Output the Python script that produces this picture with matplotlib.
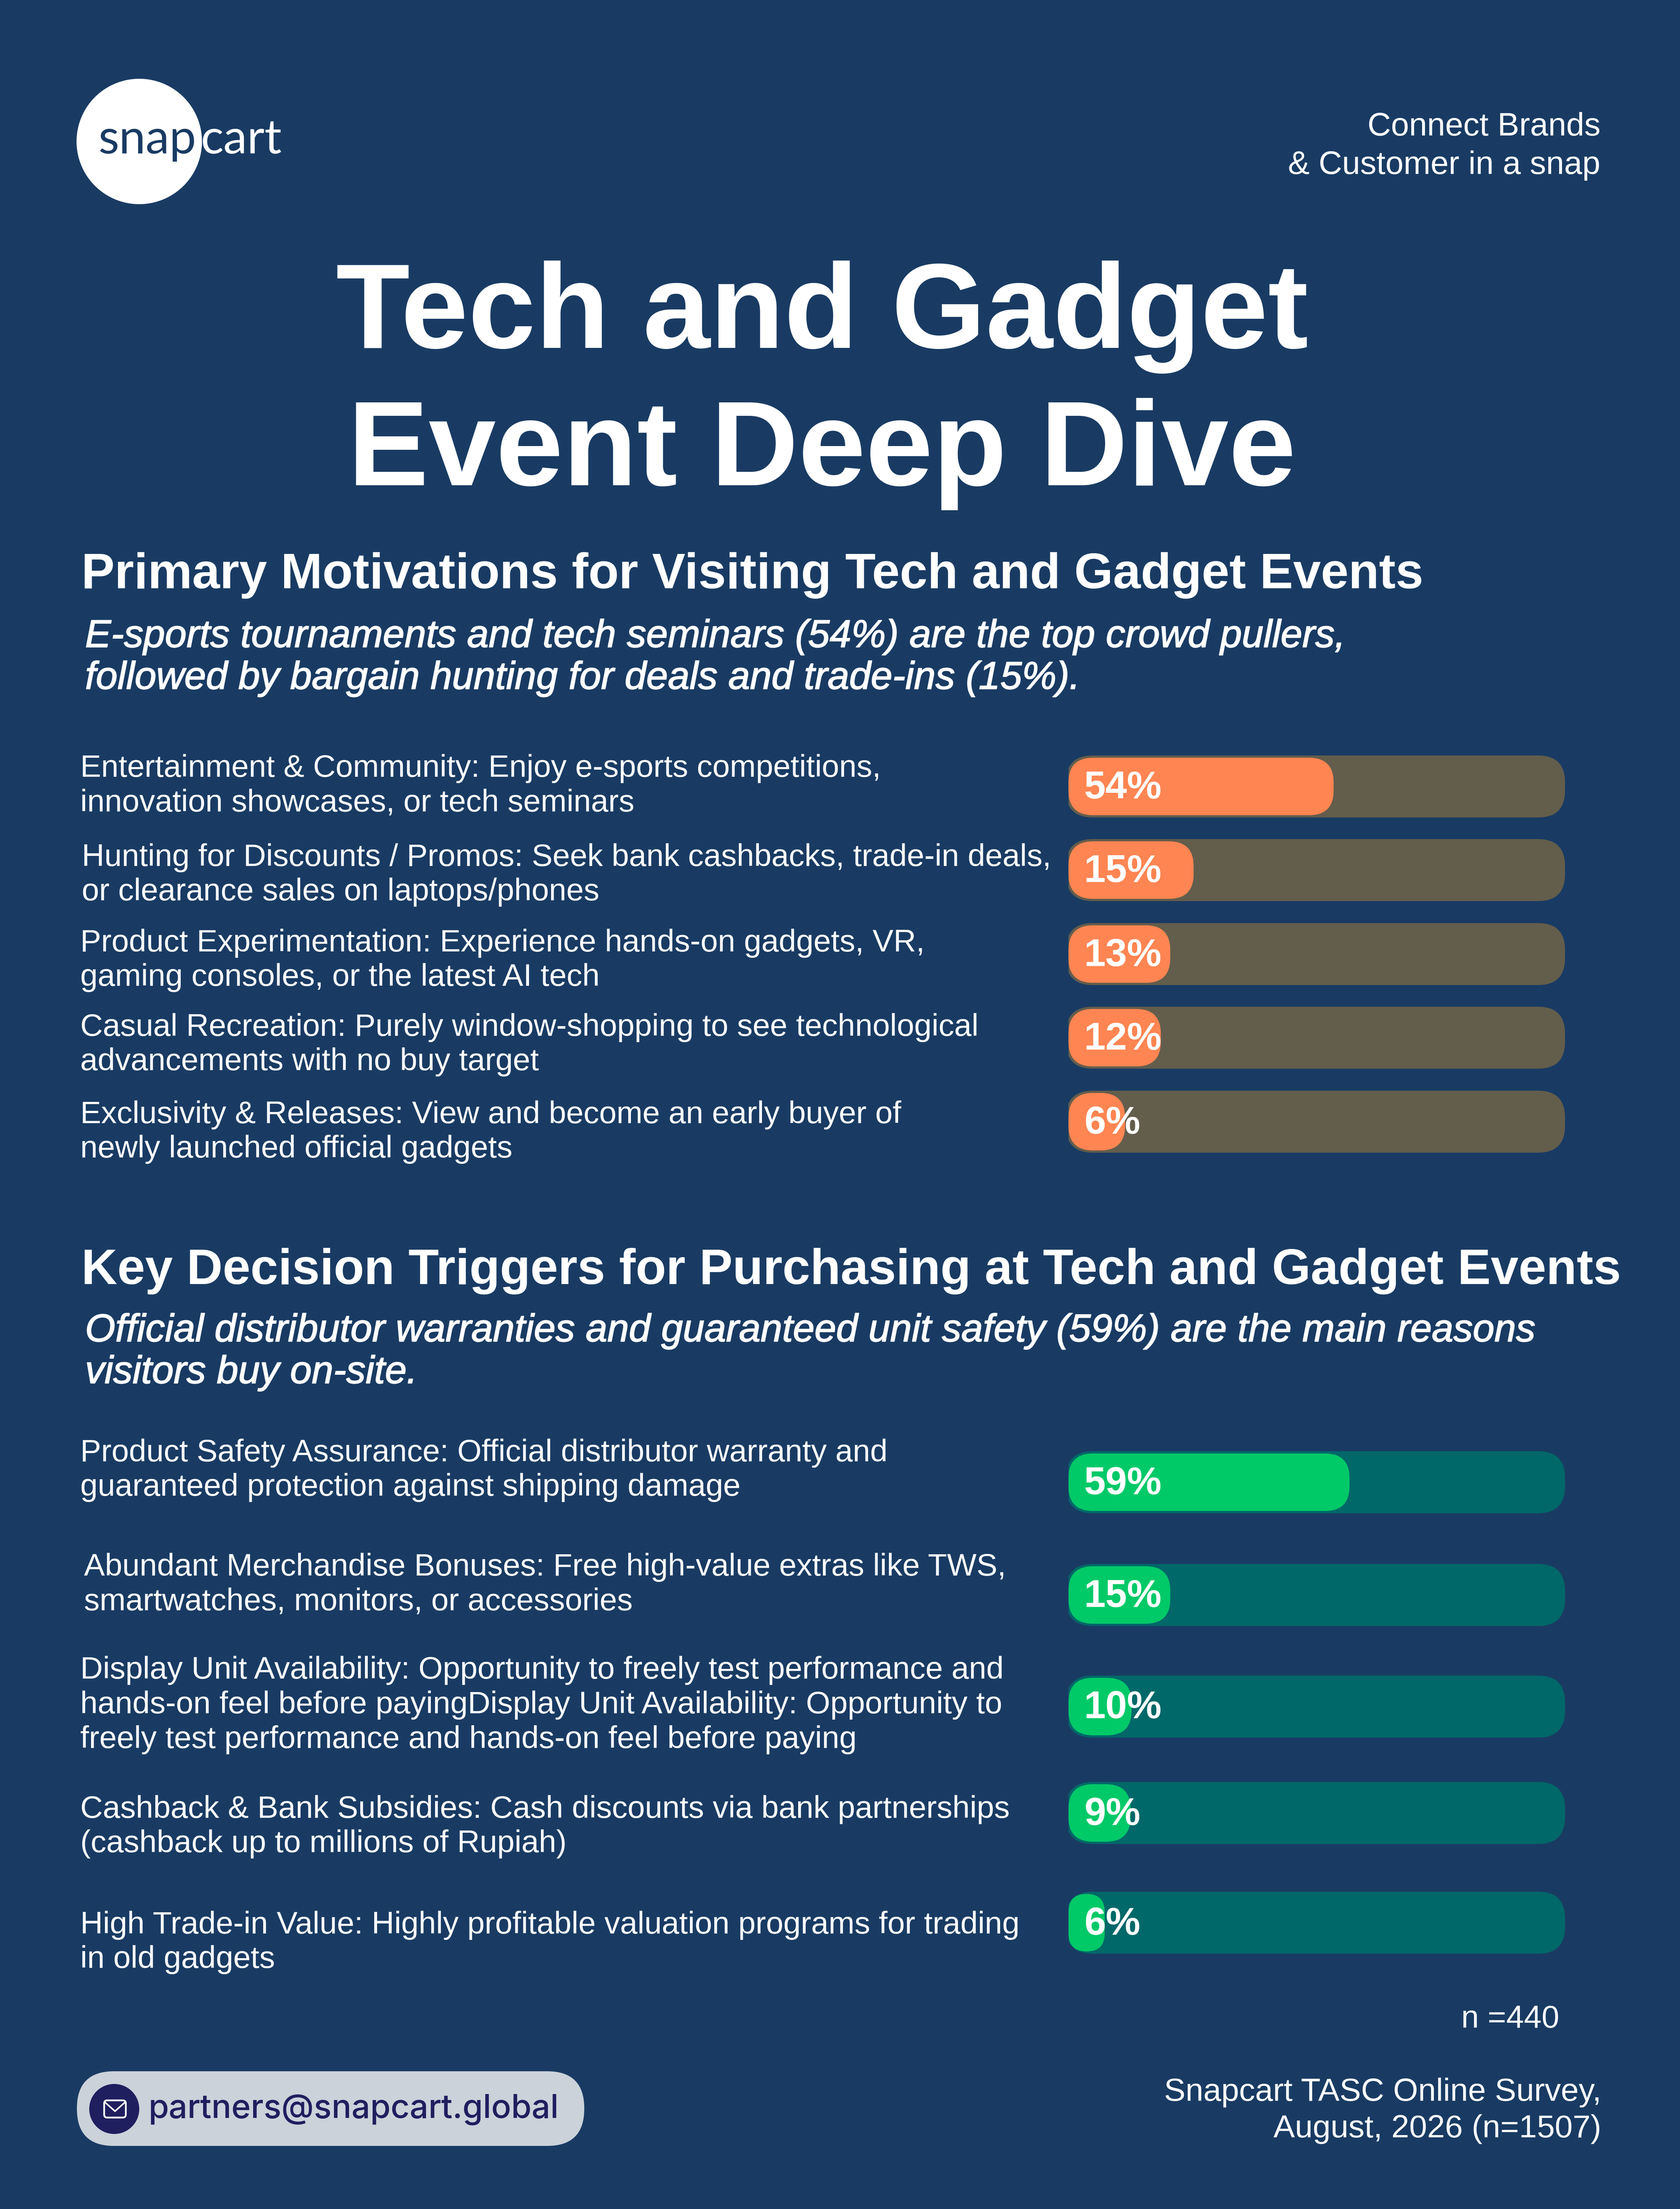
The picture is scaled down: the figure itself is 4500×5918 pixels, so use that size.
import matplotlib
matplotlib.use("Agg")
import matplotlib.pyplot as plt
from matplotlib.patches import Circle, FancyBboxPatch
import matplotlib.patheffects as pe

W, H = 4500, 5918
BG = "#193B63"
FONT = "Liberation Sans"

# first panel
motive_labels = [
    "Entertainment & Community: Enjoy e-sports competitions,\ninnovation showcases, or tech seminars",
    "Hunting for Discounts / Promos: Seek bank cashbacks, trade-in deals,\nor clearance sales on laptops/phones",
    "Product Experimentation: Experience hands-on gadgets, VR,\ngaming consoles, or the latest AI tech",
    "Casual Recreation: Purely window-shopping to see technological\nadvancements with no buy target",
    "Exclusivity & Releases: View and become an early buyer of\nnewly launched official gadgets",
]
motive_values = ["54%", "15%", "13%", "12%", "6%"]
# length of the filled bar as drawn, share of the track (not the same as the printed value)
motive_drawn = [53.4, 25.2, 20.5, 18.6, 11.4]

# second panel
trigger_labels = [
    "Product Safety Assurance: Official distributor warranty and\nguaranteed protection against shipping damage",
    "Abundant Merchandise Bonuses: Free high-value extras like TWS,\nsmartwatches, monitors, or accessories",
    "Display Unit Availability: Opportunity to freely test performance and\nhands-on feel before payingDisplay Unit Availability: Opportunity to\nfreely test performance and hands-on feel before paying",
    "Cashback & Bank Subsidies: Cash discounts via bank partnerships\n(cashback up to millions of Rupiah)",
    "High Trade-in Value: Highly profitable valuation programs for trading\nin old gadgets",
]
trigger_values = ["59%", "15%", "10%", "9%", "6%"]
trigger_drawn = [56.6, 20.5, 12.7, 12.5, 7.3]

# layout, picture pixels
motive_bar_y = [2107, 2331, 2556, 2780, 3005]
motive_text_y = [2105, 2344, 2573, 2799, 3033]
motive_text_x = [215, 219, 215, 215, 215]
trigger_bar_y = [3971, 4273, 4572, 4857, 5151]
trigger_text_y = [3939, 4245, 4568, 4894, 5204]
trigger_text_x = [215, 225, 215, 215, 215]


def pt(px):
    return px * 72 / 100


def rounded(ax, x, y, w, h, r, color, aspect=1.0, z=2):
    # x units may differ from y units, aspect keeps the corners round
    rx = min(r / aspect, w / 2)
    box = FancyBboxPatch((x, y), w, h, boxstyle=f"round,pad=0,rounding_size={rx}",
                         mutation_aspect=aspect, fc=color, ec="none", zorder=z)
    ax.add_patch(box)


def draw_panel(fig, bg, labels, values, drawn, bar_y, text_y, text_x, track_c, fill_c, half, r_track, r_fill):
    # panel axes: x is share of the track, y stays in picture pixels
    x0, x1 = 2862, 4192
    ax = fig.add_axes([x0 / W, 0, (x1 - x0) / W, 1])
    ax.set_xlim(0, 100)
    ax.set_ylim(H, 0)
    ax.axis("off")
    ax.patch.set_alpha(0)
    aspect = (x1 - x0) / 100
    for i in range(len(labels)):
        y = bar_y[i]
        rounded(ax, -7 / aspect, y - half, 100 + 7 / aspect, 2 * half, r_track, track_c, aspect, 2)
        rounded(ax, 0, y - half + 6, drawn[i], 2 * half - 12, r_fill, fill_c, aspect, 3)
        ax.text(42 / aspect, y + 5, values[i], color="white", fontsize=pt(104), fontweight="bold",
                family=FONT, va="center", ha="left", zorder=4)
        bg.text(text_x[i], text_y[i], labels[i], color="white", fontsize=pt(83.8), family=FONT, va="center",
                ha="left", linespacing=1.24, zorder=4)


fig = plt.figure(figsize=(W / 100, H / 100), dpi=100, facecolor=BG)
bg = fig.add_axes([0, 0, 1, 1])
bg.set_xlim(0, W)
bg.set_ylim(H, 0)
bg.axis("off")

# logo
bg.add_patch(Circle((373, 379), 168, fc="white", ec="none"))
bg.text(264, 375, "snap", color=BG, fontsize=pt(128), family="Lato", va="center", ha="left")
bg.text(538, 375, "cart", color="white", fontsize=pt(128), family="Lato", va="center", ha="left")

bg.text(4287, 392, "Connect Brands\n& Customer in a snap", color="white", fontsize=pt(87), family=FONT,
        ha="right", va="center", linespacing=1.36)

bg.text(2202, 849, "Tech and Gadget", color="white", fontsize=pt(324), fontweight="bold", family=FONT,
        ha="center", va="center")
bg.text(2202, 1216, "Event Deep Dive", color="white", fontsize=pt(324), fontweight="bold", family=FONT,
        ha="center", va="center")

bg.text(218, 1541, "Primary Motivations for Visiting Tech and Gadget Events", color="white",
        fontsize=pt(133.5), fontweight="bold", family=FONT, ha="left", va="center")
bg.text(228, 1763, "E-sports tournaments and tech seminars (54%) are the top crowd pullers,\nfollowed by bargain hunting for deals and trade-ins (15%).",
        color="white", fontsize=pt(104), style="italic", family=FONT, ha="left", va="center", linespacing=1.2,
        path_effects=[pe.withStroke(linewidth=1.6, foreground="white")])

bg.text(218, 3405, "Key Decision Triggers for Purchasing at Tech and Gadget Events", color="white",
        fontsize=pt(133.5), fontweight="bold", family=FONT, ha="left", va="center")
bg.text(228, 3623, "Official distributor warranties and guaranteed unit safety (59%) are the main reasons\nvisitors buy on-site.",
        color="white", fontsize=pt(104), style="italic", family=FONT, ha="left", va="center", linespacing=1.2,
        path_effects=[pe.withStroke(linewidth=1.6, foreground="white")])

draw_panel(fig, bg, motive_labels, motive_values, motive_drawn, motive_bar_y, motive_text_y, motive_text_x,
           "#635D4C", "#FF8552", 83, 72, 66)
draw_panel(fig, bg, trigger_labels, trigger_values, trigger_drawn, trigger_bar_y, trigger_text_y, trigger_text_x,
           "#006868", "#00C968", 83, 72, 66)

# footer
bg.text(4177, 5410, "n =440", color="white", fontsize=pt(85), family=FONT, ha="right", va="center")
bg.text(4289, 5655, "Snapcart TASC Online Survey,\nAugust, 2026 (n=1507)", color="white", fontsize=pt(86), family=FONT,
        ha="right", va="center", linespacing=1.285)

rounded(bg, 206, 5549, 1359, 200, 99, "#CBD2DA")
bg.add_patch(Circle((306, 5650), 67, fc="#1F1F5F", ec="none", zorder=3))
bg.add_patch(FancyBboxPatch((279, 5627), 58, 46, boxstyle="round,pad=0,rounding_size=8", fc="none", ec="white", lw=3.4, zorder=4))
bg.plot([281, 308, 335], [5632, 5656, 5632], color="white", lw=3, zorder=4)
bg.text(398, 5652, "partners@snapcart.global", color="#1F1F5F", fontsize=pt(88.5), family="Inter",
        fontweight="medium", ha="left", va="center", zorder=4)

fig.savefig("out.png", dpi=100, facecolor=BG)
